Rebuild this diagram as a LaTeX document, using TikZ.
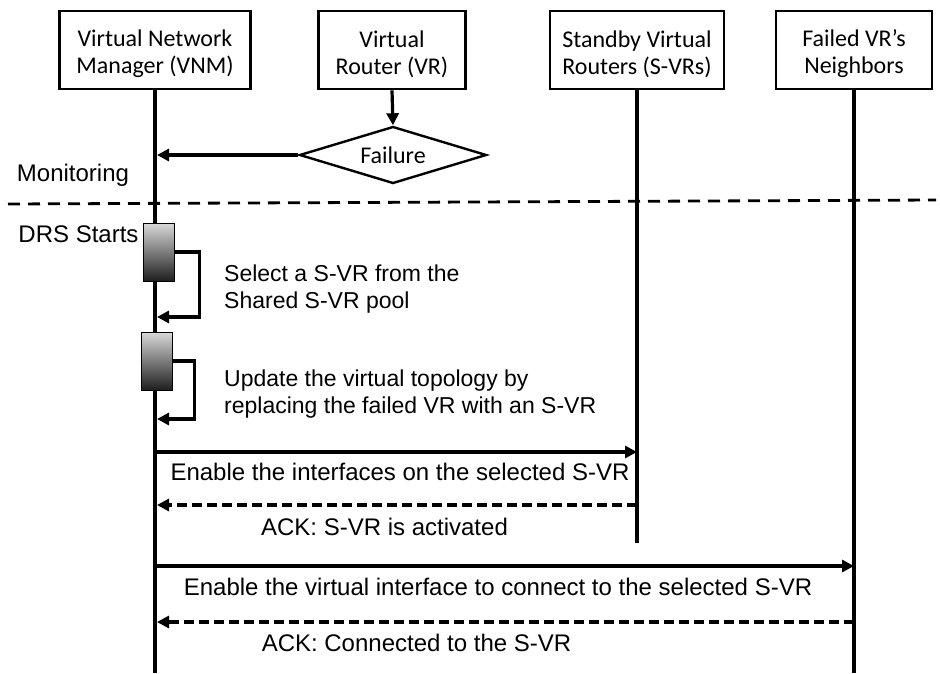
\documentclass[tikz,border=0pt]{standalone}
\usepackage{fontspec}
\setmainfont{Liberation Sans}
\newfontfamily\boxfont{Carlito}
\usetikzlibrary{arrows.meta,shapes.geometric,calc}

\begin{document}
\begin{tikzpicture}[x=1pt,y=1pt,
  actor/.style={draw,line width=2.8pt,minimum width=#1,minimum height=78pt,
    align=center,inner sep=0pt,font=\boxfont\fontsize{24}{27}\selectfont},
  life/.style={line width=3.6pt},
  msg/.style={line width=3.2pt,-{Triangle[length=12pt,width=12pt]}},
  reply/.style={msg,dash pattern=on 10pt off 5pt},
  msgtext/.style={inner sep=0pt,anchor=base,font=\fontsize{24}{27}\selectfont},
  annot/.style={inner sep=0pt,anchor=base west,font=\fontsize{23}{27}\selectfont},
  act/.style={draw=black,line width=0.9pt,top color=gray!30,bottom color=black!88,
    minimum width=31pt,minimum height=58pt,inner sep=0pt}
]
\useasboundingbox (0,0) rectangle (940,-673);

% participants
\node[actor=191pt] (vnm) at (155,-50) {\rule{0pt}{25pt}Virtual Network\\Manager (VNM)};
\node[actor=147pt] (vr)  at (392,-50) {\rule{0pt}{25pt}Virtual\\Router (VR)};
\node[actor=174pt] (svr) at (637,-50) {\rule{0pt}{25pt}Standby Virtual\\Routers (S-VRs)};
\node[actor=156pt] (nbr) at (854,-50) {\rule{0pt}{25pt}Failed VR’s\\Neighbors};

% lifelines
\coordinate (vnmEnd) at (155,-673);
\coordinate (svrEnd) at (637,-543);
\coordinate (nbrEnd) at (854,-673);
\draw[life] (vnm.south) -- (vnmEnd);
\draw[life] (svr.south) -- (svrEnd);
\draw[life] (nbr.south) -- (nbrEnd);

% failure detection
\node[diamond,draw,line width=2.4pt,shape aspect=3.3,inner sep=0pt,
  minimum width=187pt,minimum height=57pt,
  font=\boxfont\fontsize{24}{27}\selectfont] (fail) at (393,-155) {Failure};
\draw[msg] (vr.south) -- (fail.north);
\coordinate (mon) at (157,-155);
\draw[msg] (fail.west) -- (mon);
\node[msgtext] (monlbl) at (73,-181) {Monitoring};

% phase separator
\coordinate (sepL) at (8,-204);
\coordinate (sepR) at (936,-200);
\draw[line width=2.8pt,dash pattern=on 12pt off 8pt] (sepL) -- (sepR);

\node[msgtext] (drs) at (78.5,-242) {DRS Starts};

% activations with self calls
\node[act] (a1) at (158.5,-252) {};
\coordinate (r1) at (157,-317);
\draw[msg] (a1.east) -- ++(25,0) |- (r1);
\node[annot] (sel1) at (224,-281) {Select a S-VR from the};
\node[annot] (sel2) at (224,-308) {Shared S-VR pool};

\node[act] (a2) at (156.5,-361) {};
\coordinate (r2) at (157,-419);
\draw[msg] (a2.east) -- ++(22,0) |- (r2);
\node[annot] (upd1) at (224,-386) {Update the virtual topology by};
\node[annot] (upd2) at (224,-413) {replacing the failed VR with an S-VR};

% messages to the standby router
\coordinate (m1s) at (157,-452);
\coordinate (m1e) at (637,-452);
\draw[msg] (m1s) -- (m1e);
\node[msgtext] (m1t) at (400,-480) {Enable the interfaces on the selected S-VR};
\coordinate (m2s) at (637,-505);
\coordinate (m2e) at (157,-505);
\draw[reply] (m2s) -- (m2e);
\node[msgtext] (m2t) at (384.5,-535) {ACK: S-VR is activated};

% messages to the neighbours
\coordinate (m3s) at (157,-566);
\coordinate (m3e) at (854,-566);
\draw[msg] (m3s) -- (m3e);
\node[msgtext] (m3t) at (498,-595) {Enable the virtual interface to connect to the selected S-VR};
\coordinate (m4s) at (854,-622);
\coordinate (m4e) at (157,-622);
\draw[reply] (m4s) -- (m4e);
\node[msgtext] (m4t) at (416.5,-651.5) {ACK: Connected to the S-VR};
\end{tikzpicture}
\end{document}
